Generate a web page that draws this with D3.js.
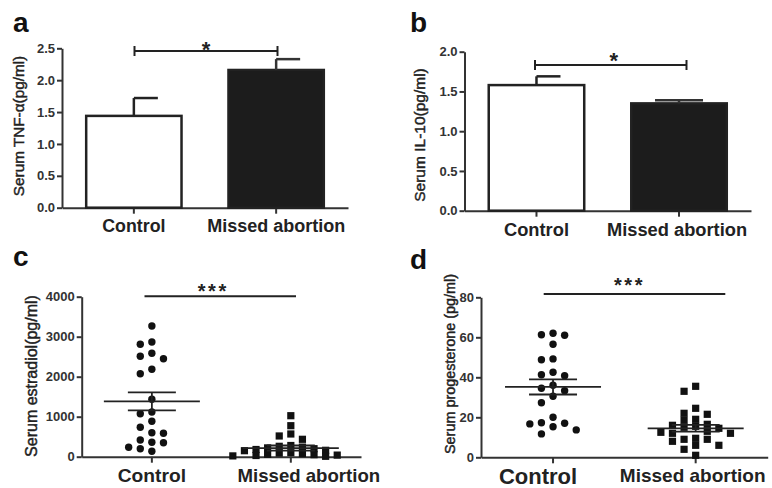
<!DOCTYPE html>
<html lang="en">
<head>
<meta charset="utf-8">
<title>Serum markers: control vs missed abortion</title>
<script src="https://cdn.jsdelivr.net/npm/d3@7"></script>
<style>
  body { margin: 0; background: #fff; }
  svg { display: block; font-family: "Liberation Sans", Arial, sans-serif; }
</style>
</head>
<body>
<script>
// categories
var groups = ["Control", "Missed abortion"];

// a: TNF-alpha, mean and SEM (pg/ml)
var tnfMean = [1.44, 2.16];
var tnfSem = [0.28, 0.17];
var tnfTicks = [0, 0.5, 1.0, 1.5, 2.0, 2.5];

// b: IL-10, mean and SEM (pg/ml)
var il10Mean = [1.58, 1.35];
var il10Sem = [0.11, 0.04];
var il10Ticks = [0, 0.5, 1.0, 1.5, 2.0];

// c: estradiol, single values (pg/ml)
var estradiolControl = [3267, 2867, 2810, 2585, 2510, 2450, 2185, 2075, 1435, 1118, 1075,
                        885, 735, 600, 585, 417, 360, 350, 235, 200, 135];
var estradiolMissed = [1025, 775, 568, 518, 435, 280, 260, 240, 220, 200, 180, 160, 150,
                       100, 90, 80, 60, 50, 40, 30, 20, 10];
var estradiolMean = [1385, 215];
var estradiolSem = [225, 65];
var estradiolTicks = [0, 1000, 2000, 3000, 4000];

// d: progesterone, single values (pg/ml)
var progControl = [62, 61.3, 61, 56.5, 49.2, 48.8, 42.5, 41.3, 40.8, 36, 34.5, 33.3, 30.5,
                   27.3, 20, 17.3, 17, 16.7, 15.3, 13.7, 11.7];
var progMissed = [35.5, 33, 24.5, 22, 21.5, 19, 18.5, 16.5, 16, 15.5, 15, 14.5, 13, 12.5,
                  12, 12, 9.5, 9, 9, 8, 6, 6, 4, 1];
var progMean = [35.2, 14.5];
var progSem = [3.8, 1.7];
var progTicks = [0, 20, 40, 60, 80];

var stars = ["*", "*", "***", "***"];

var ink = "#222";

var svg = d3.select("body").append("svg")
  .attr("width", 772)
  .attr("height", 488);

//Panel letter, y title, axes; returns the scales
function frame(p) {
  var y = d3.scaleLinear()
    .domain([0, d3.max(p.ticks)])
    .range([p.y1, p.y0]);

  var x = d3.scaleBand()
    .domain(groups)
    .range([p.x0, p.x1])
    .paddingInner(0.33)
    .paddingOuter(0.17);

  svg.append("text")
    .attr("x", p.letter[0])
    .attr("y", p.letter[1])
    .attr("font-size", 28)
    .attr("font-weight", "bold")
    .attr("fill", "#111")
    .text(p.name);

  svg.append("text")
    .attr("transform", "translate(" + p.title[0] + "," + p.title[1] + ") rotate(-90)")
    .attr("text-anchor", "middle")
    .attr("dy", "0.36em")
    .attr("font-size", p.title[2])
    .attr("fill", ink)
    .attr("stroke", ink)
    .attr("stroke-width", 0.45)
    .text(p.titleText);

  var yAxis = d3.axisLeft(y)
    .tickValues(p.ticks)
    .tickFormat(p.fmt)
    .tickSize(5)
    .tickSizeOuter(0)
    .tickPadding(2);

  var gy = svg.append("g")
    .attr("transform", "translate(" + p.x0 + ",0)")
    .call(yAxis);
  gy.selectAll("text")
    .attr("font-size", 13)
    .attr("font-weight", "bold")
    .attr("fill", "#333")
    .attr("font-family", "Liberation Sans, Arial, sans-serif");

  var xAxis = d3.axisBottom(x)
    .tickSize(6)
    .tickSizeOuter(0)
    .tickPadding(p.labelPad);

  var gx = svg.append("g")
    .attr("transform", "translate(0," + p.y1 + ")")
    .call(xAxis);
  gx.selectAll("text")
    .attr("font-size", function(d, i) { return p.labelSize[i]; })
    .attr("font-weight", "bold")
    .attr("fill", ink)
    .attr("dx", function(d, i) { return p.labelShift[i]; })
    .attr("font-family", "Liberation Sans, Arial, sans-serif");

  [gx, gy].forEach(function(g) {
    g.select(".domain").attr("stroke", "#333").attr("stroke-width", 2);
    g.selectAll(".tick line").attr("stroke", "#333").attr("stroke-width", 2);
  });

  return { x: x, y: y };
}

//Significance line over the two groups
function sig(p, s) {
  var g = svg.append("g").attr("stroke", ink).attr("stroke-width", 2);
  g.append("line")
    .attr("x1", p.sig[0]).attr("x2", p.sig[1])
    .attr("y1", p.sig[2]).attr("y2", p.sig[2]);
  if (p.bracket) {
    [p.sig[0], p.sig[1]].forEach(function(xx) {
      g.append("line")
        .attr("x1", xx).attr("x2", xx)
        .attr("y1", p.sig[2] - 5).attr("y2", p.sig[2] + 5);
    });
  }
  svg.append("text")
    .attr("x", (p.sig[0] + p.sig[1]) / 2 + p.starShift)
    .attr("y", p.starY)
    .attr("text-anchor", "middle")
    .attr("font-size", p.starSize)
    .attr("font-weight", "bold")
    .attr("letter-spacing", p.bracket ? 0 : 2.5)
    .attr("fill", ink)
    .text(s);
}

function drawBars(p, mean, sem) {
  var sc = frame(p);
  var x = sc.x, y = sc.y;

  svg.selectAll(null)
    .data(mean)
    .enter()
    .append("rect")
    .attr("x", function(d, i) { return x(groups[i]); })
    .attr("y", function(d) { return y(d); })
    .attr("width", x.bandwidth())
    .attr("height", function(d) { return y(0) - y(d); })
    .attr("fill", function(d, i) { return i === 0 ? "#fff" : "#1c1c1c"; })
    .attr("stroke", ink)
    .attr("stroke-width", 2.5);

  mean.forEach(function(m, i) {
    var cx = x(groups[i]) + x.bandwidth() / 2;
    var top = y(m + sem[i]);
    var g = svg.append("g").attr("stroke", i === 0 ? ink : "#333").attr("stroke-width", 2.5);
    g.append("line").attr("x1", cx).attr("x2", cx).attr("y1", y(m)).attr("y2", top);
    g.append("line")
      .attr("x1", cx - p.capLeft[i]).attr("x2", cx + 24)
      .attr("y1", top).attr("y2", top);
  });
}

//Stack points in columns so that they don't overlap (Prism-style scatter)
function swarm(values, y, cx, step, gap) {
  var pts = values.map(function(v) { return { v: v, y: y(v) }; })
    .sort(function(a, b) { return a.y - b.y; });
  var placed = [];
  pts.forEach(function(pt) {
    for (var k = 0; ; k++) {
      var col = k === 0 ? 0 : (k % 2 ? -Math.ceil(k / 2) : k / 2);
      var hit = placed.some(function(q) { return q.col === col && Math.abs(q.y - pt.y) < gap; });
      if (!hit) { pt.col = col; break; }
    }
    placed.push(pt);
  });
  placed.forEach(function(pt) { pt.x = cx + pt.col * step; });
  return placed;
}

function drawDots(p, sets, mean, sem) {
  var sc = frame(p);
  var x = sc.x, y = sc.y;

  sets.forEach(function(vals, i) {
    var cx = x(groups[i]) + x.bandwidth() / 2;
    var pts = swarm(vals, y, cx, 11.6, p.gap[i]);
    if (i === 0) {
      svg.selectAll(null).data(pts).enter().append("circle")
        .attr("cx", function(d) { return d.x; })
        .attr("cy", function(d) { return d.y; })
        .attr("r", 3.7)
        .attr("fill", "#111");
    } else {
      svg.selectAll(null).data(pts).enter().append("rect")
        .attr("x", function(d) { return d.x - 3.6; })
        .attr("y", function(d) { return d.y - 3.6; })
        .attr("width", 7.2)
        .attr("height", 7.2)
        .attr("fill", "#111");
    }

    var g = svg.append("g").attr("stroke", ink).attr("stroke-width", 1.8);
    g.append("line").attr("x1", cx - 48).attr("x2", cx + 48)
      .attr("y1", y(mean[i])).attr("y2", y(mean[i]));
    [mean[i] - sem[i], mean[i] + sem[i]].forEach(function(v) {
      g.append("line").attr("x1", cx - 24).attr("x2", cx + 24)
        .attr("y1", y(v)).attr("y2", y(v));
    });
    g.append("line").attr("x1", cx).attr("x2", cx)
      .attr("y1", y(mean[i] - sem[i])).attr("y2", y(mean[i] + sem[i]));
  });
}

var fmt1 = d3.format(".1f"), fmt0 = d3.format("d");

var pa = {
  name: "a", letter: [13, 32], x0: 62, x1: 348, y0: 48.3, y1: 207.7,
  ticks: tnfTicks, fmt: fmt1, title: [18.5, 126, 15.3], titleText: "Serum TNF-\u03b1(pg/ml)",
  labelSize: [17.8, 18], labelShift: [0, 0], labelPad: 6,
  sig: [134.5, 277.5, 51], bracket: true, starShift: 0, starY: 57, starSize: 22,
  capLeft: [0, 0]
};
var pb = {
  name: "b", letter: [410, 32], x0: 464.5, x1: 751, y0: 51.7, y1: 210.7,
  ticks: il10Ticks, fmt: fmt1, title: [419.5, 135, 15.5], titleText: "Serum IL-10(pg/ml)",
  labelSize: [18.3, 18.3], labelShift: [0, -2], labelPad: 6,
  sig: [535, 686.5, 65], bracket: true, starShift: 3, starY: 68, starSize: 22,
  capLeft: [0, 24]
};
var pc = {
  name: "c", letter: [13, 266], x0: 81.7, x1: 361, y0: 296.7, y1: 456.7,
  ticks: estradiolTicks, fmt: fmt0, title: [31.5, 376, 16], titleText: "Serum estradiol(pg/ml)",
  labelSize: [19.2, 18.6], labelShift: [0, 18], labelPad: 6,
  sig: [144.5, 296, 296.3], bracket: false, starShift: -7, starY: 298, starSize: 20,
  gap: [7.5, 6]
};
var pd = {
  name: "d", letter: [410, 269], x0: 481, x1: 767.7, y0: 297.3, y1: 457.3,
  ticks: progTicks, fmt: fmt0, title: [449.5, 364, 14.4], titleText: "Serum progesterone (pg/ml)",
  labelSize: [22, 19], labelShift: [-15, -3], labelPad: 5,
  sig: [543.7, 725.3, 294], bracket: false, starShift: -5, starY: 291.5, starSize: 20,
  gap: [7.5, 7]
};

drawBars(pa, tnfMean, tnfSem);
sig(pa, stars[0]);
drawBars(pb, il10Mean, il10Sem);
sig(pb, stars[1]);
drawDots(pc, [estradiolControl, estradiolMissed], estradiolMean, estradiolSem);
sig(pc, stars[2]);
drawDots(pd, [progControl, progMissed], progMean, progSem);
sig(pd, stars[3]);
</script>
</body>
</html>
